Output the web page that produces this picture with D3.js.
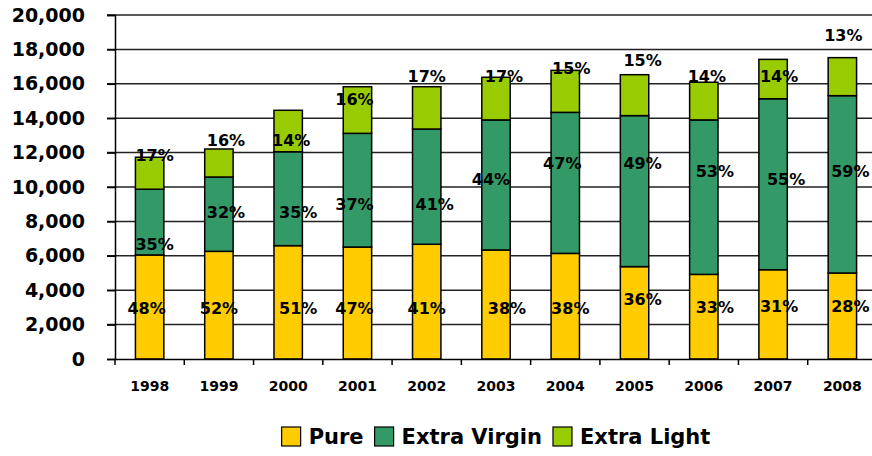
<!DOCTYPE html>
<html>
<head>
<meta charset="utf-8">
<script src="https://cdn.jsdelivr.net/npm/d3@7"></script>
<style>
  html, body { margin: 0; padding: 0; background: #fff; }
  svg { display: block; }
  text { font-family: 'Comic Sans MS', 'DejaVu Sans', sans-serif; font-weight: bold; fill: #000; }
</style>
</head>
<body>
<svg id="chart" width="872" height="456"></svg>
<script>
// ---- data ----
const years = ["1998","1999","2000","2001","2002","2003","2004","2005","2006","2007","2008"];
const seriesNames = ["Pure", "Extra Virgin", "Extra Light"];
const pure        = [6050, 6260, 6590, 6510, 6670, 6340, 6140, 5370, 4920, 5190, 5000];
const extraVirgin = [3820, 4320, 5460, 6610, 6700, 7560, 8200, 8780, 8980, 9940, 10310];
const extraLight  = [1860, 1630, 2410, 2710, 2460, 2480, 2440, 2380, 2190, 2290, 2210];
const pureLabels  = ["48%","52%","51%","47%","41%","38%","38%","36%","33%","31%","28%"];
const evLabels    = ["35%","32%","35%","37%","41%","44%","47%","49%","53%","55%","59%"];
const elLabels    = ["17%","16%","14%","16%","17%","17%","15%","15%","14%","14%","13%"];
const yTicks = [0, 2000, 4000, 6000, 8000, 10000, 12000, 14000, 16000, 18000, 20000];
// label anchors (value units) and horizontal nudges as in the reference
const pureLabelAt = [2965, 2965, 2965, 2965, 2965, 2965, 2965, 3470, 3000, 3040, 3040];
const evLabelAt   = [6670, 8530, 8530, 9010, 9010, 10410, 11380, 11340, 10890, 10410, 10890];
const elLabelAt   = [11820, 12730, 12730, 15100, 16450, 16450, 16900, 17380, 16450, 16450, 18780];
const pureNudge = [-3, 0, 10, -3, 0, 11, 5, 8, 11, 6, 8];
const evNudge   = [5, 7, 10, -3, 8, -5, -3, 8, 11, 13, 8];
const elNudge   = [5, 7, 3, -3, 0, 8, 6, 8, 3, 6, 1];

const colors = ["#FFCC00", "#339966", "#99CC00"];

(function () {
// ---- layout ----
const svg = d3.select("#chart");
const mLeft = 115, mTop = 15, mBottom = 359, mRight = 877;

const x = d3.scaleBand().domain(years).range([mLeft, mRight]).padding(0);
const y = d3.scaleLinear().domain([0, 20000]).range([mBottom, mTop]);
const barW = x.bandwidth() * 0.41;

// gridlines
svg.append("g").selectAll("line").data(yTicks.filter(d => d > 0)).join("line")
  .attr("x1", mLeft - 8).attr("x2", 872)
  .attr("y1", d => y(d)).attr("y2", d => y(d))
  .attr("stroke", "#222").attr("stroke-width", 1.5);

// y axis
const yAxis = d3.axisLeft(y).tickValues(yTicks).tickFormat(d3.format(",")).tickSize(8).tickPadding(22);
const gy = svg.append("g").attr("transform", `translate(${mLeft},0)`).call(yAxis);
gy.select(".domain").attr("stroke", "#000").attr("stroke-width", 1.5);
gy.selectAll(".tick line").attr("stroke", "#000").attr("stroke-width", 1.5);
gy.selectAll("text").style("font-size", "19px").attr("fill", "#000");

// stack data
const rows = years.map((yr, i) => ({ year: yr, "Pure": pure[i], "Extra Virgin": extraVirgin[i], "Extra Light": extraLight[i] }));
const stacked = d3.stack().keys(seriesNames)(rows);

svg.append("g").selectAll("g").data(stacked).join("g")
  .attr("fill", (d, i) => colors[i])
  .selectAll("rect").data(d => d).join("rect")
  .attr("x", d => x(d.data.year) + (x.bandwidth() - barW) / 2)
  .attr("width", barW)
  .attr("y", d => y(d[1]))
  .attr("height", d => y(d[0]) - y(d[1]))
  .attr("stroke", "#000").attr("stroke-width", 1.5);

// x axis
const xAxis = d3.axisBottom(x).tickSize(0).tickPadding(22);
const gx = svg.append("g").attr("transform", `translate(0,${mBottom})`).call(xAxis);
gx.select(".domain").attr("stroke", "#000").attr("stroke-width", 1.5);
gx.selectAll("text").style("font-size", "14px").attr("fill", "#000");
// category boundary ticks
svg.append("g").selectAll("line").data(years).join("line")
  .attr("x1", d => x(d)).attr("x2", d => x(d))
  .attr("y1", mBottom).attr("y2", mBottom + 6)
  .attr("stroke", "#000").attr("stroke-width", 1.5);

// percentage labels
const labelSets = [
  { labels: pureLabels, at: pureLabelAt, nudge: pureNudge },
  { labels: evLabels, at: evLabelAt, nudge: evNudge },
  { labels: elLabels, at: elLabelAt, nudge: elNudge }
];
labelSets.forEach(set => {
  svg.append("g").selectAll("text").data(years).join("text")
    .attr("x", (d, i) => x(d) + x.bandwidth() / 2 + set.nudge[i])
    .attr("y", (d, i) => y(set.at[i]))
    .attr("text-anchor", "middle")
    .attr("dominant-baseline", "central")
    .style("font-size", "16px")
    .text((d, i) => set.labels[i]);
});

// legend
const legend = svg.append("g").attr("transform", "translate(281,427)");
let lx = 0;
seriesNames.forEach((name, i) => {
  const g = legend.append("g").attr("transform", `translate(${lx},0)`);
  g.append("rect").attr("width", 19).attr("height", 19)
    .attr("fill", colors[i]).attr("stroke", "#000").attr("stroke-width", 1.2);
  const t = g.append("text").attr("x", 27).attr("y", 10).attr("dominant-baseline", "central")
    .style("font-size", "21px").text(name);
  lx += 27 + t.node().getComputedTextLength() + 11;
});
const lw = lx - 11;
legend.attr("transform", `translate(${496 - lw / 2},427)`);
})();
</script>
</body>
</html>
